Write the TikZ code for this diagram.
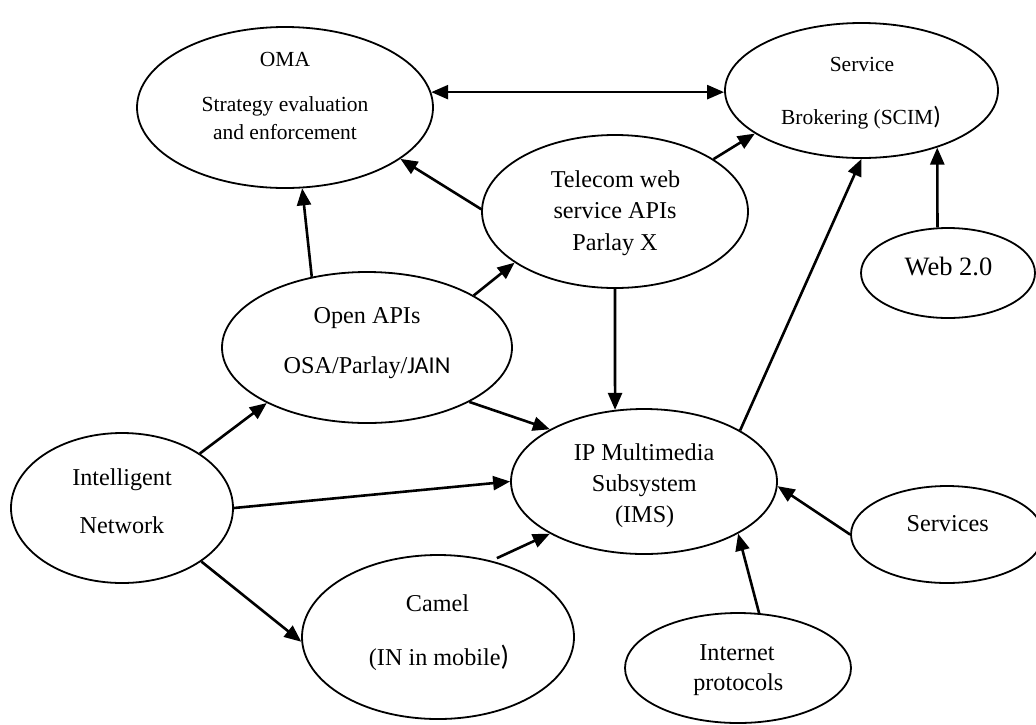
\documentclass[tikz,border=0pt]{standalone}
\usepackage{fontspec}
\setmainfont{Liberation Serif}
\newfontfamily\calfont{Carlito}
\usetikzlibrary{shapes.geometric,arrows.meta}
\begin{document}
\begin{tikzpicture}[x=1pt,y=-1pt,
  ell/.style={ellipse, draw, line width=1.8pt, inner sep=0pt},
  conn/.style={line width=2.6pt, -{Triangle[length=17pt,width=14pt]}},
  dconn/.style={line width=2.6pt, {Triangle[length=17pt,width=14pt]}-{Triangle[length=17pt,width=14pt]}},
  tA/.style={anchor=base, inner sep=0pt, font=\fontsize{21.5}{25}\selectfont},
  tB/.style={anchor=base, inner sep=0pt, font=\fontsize{24.2}{28}\selectfont},
  tC/.style={anchor=base, inner sep=0pt, font=\fontsize{26.5}{30}\selectfont}]
\useasboundingbox (0,0) rectangle (1036,724);
\clip (0,0) rectangle (1036,724);
% ellipses
\node[ell, minimum width=296pt, minimum height=161pt] (oma) at (285,107.5) {};
\node[ell, minimum width=273pt, minimum height=135pt] (sb) at (861.5,90.5) {};
\node[ell, minimum width=266pt, minimum height=153pt] (tel) at (615,211.5) {};
\node[ell, minimum width=174pt, minimum height=90pt] (web) at (948,273) {};
\node[ell, minimum width=290pt, minimum height=151pt] (open) at (367,347.5) {};
\node[ell, minimum width=266pt, minimum height=145pt] (ims) at (644,481.5) {};
\node[ell, minimum width=222pt, minimum height=150pt] (in) at (122,508) {};
\node[ell, minimum width=192pt, minimum height=97pt] (svc) at (947,534.5) {};
\node[ell, minimum width=272pt, minimum height=164pt] (camel) at (438,637) {};
\node[ell, minimum width=226pt, minimum height=110pt] (inet) at (738,668) {};
% texts
\node[tA] (omaA) at (285,66.7) {OMA};
\node[tA] (omaB) at (285,111.7) {Strategy evaluation};
\node[tA] (omaC) at (285,139.3) {and enforcement};
\node[tA] (sbA) at (862,71.7) {Service};
\node[tA] (sbB) at (861,124) {Brokering (SCIM{\calfont\fontsize{25}{28}\selectfont)}};
\node[tB] (telA) at (615.5,187.7) {Telecom web};
\node[tB] (telB) at (615,218.3) {service APIs};
\node[tB] (telC) at (615,250) {Parlay X};
\node[tC] (webA) at (948.5,275) {Web 2.0};
\node[tB] (openA) at (367,323.3) {Open APIs};
\node[tB] (openB) at (367,373.3) {OSA/Parlay/{\calfont JAIN}};
\node[tB] (imsA) at (644,460) {IP Multimedia};
\node[tB] (imsB) at (644.3,491.7) {Subsystem};
\node[tB] (imsC) at (644.7,522.7) {(IMS)};
\node[tB] (inA) at (122,485) {Intelligent};
\node[tB] (inB) at (122,533.3) {Network};
\node[tB] (svcA) at (947.7,531.7) {Services};
\node[tB] (camelA) at (437.5,611) {Camel};
\node[tB] (camelB) at (439,665) {(IN in mobile{\calfont\fontsize{28}{30}\selectfont)}};
\node[tB] (inetA) at (737,660) {Internet};
\node[tB] (inetB) at (738.3,690) {protocols};
% connectors
\draw[dconn] (oma.6) -- (oma.6 -| sb.west);
\draw[conn] (open.128) -- (oma.-78);
\draw[conn] (tel.179) -- (oma.-24.5);
\draw[conn] (tel.28.6) -- (sb.-158);
\draw[conn] (open.26.3) -- (tel.-153.4);
\draw[conn] (tel.south) -- (ims.112.3);
\draw[conn] (open.-28.3) -- (ims.151.8);
\draw[conn] (ims.28.7) -- (sb.south);
\draw[conn] (web.103.7) -- (sb.-37);
\draw[conn] (in.35.7) -- (open.-151.2);
\draw[conn] (in.east) -- (ims.west);
\draw[conn] (in.-34) -- (camel.-178);
\draw[conn, shorten <=6pt] (camel.55.6) -- (ims.-151.8);
\draw[conn] (svc.west) -- (ims.-2);
\draw[conn] (inet.69) -- (ims.-29.1);
\end{tikzpicture}
\end{document}
